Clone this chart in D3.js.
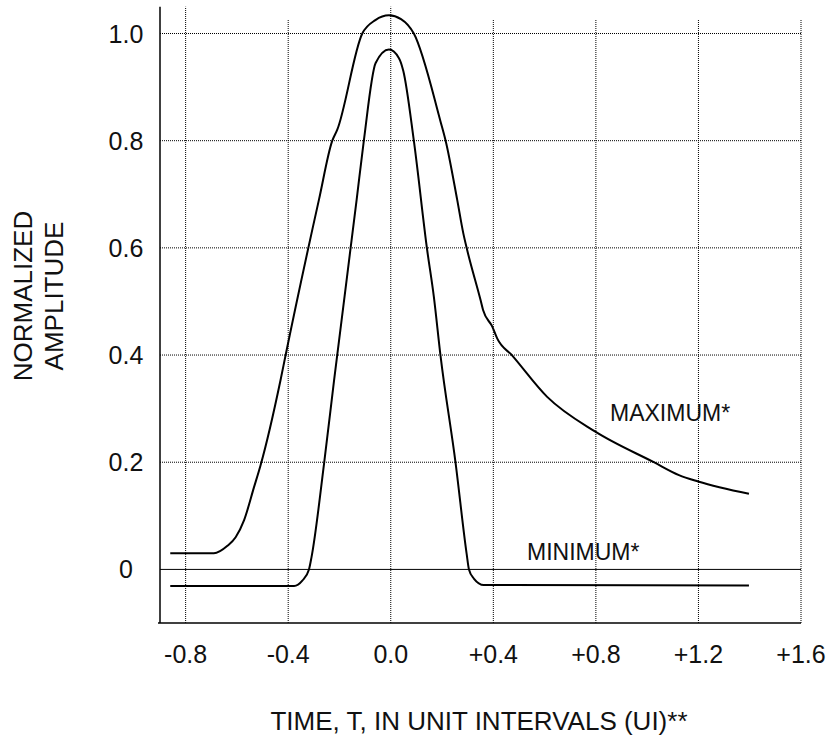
<!DOCTYPE html>
<html>
<head>
<meta charset="utf-8">
<script src="https://cdn.jsdelivr.net/npm/d3@7"></script>
<style>
  body { margin: 0; background: #fff; }
  text { font-family: "Liberation Sans", Arial, Helvetica, sans-serif; fill: #111; }
</style>
</head>
<body>
<svg id="chart" width="826" height="735"></svg>
<script>
// tick values
const xTicks = [-0.8, -0.4, 0.0, 0.4, 0.8, 1.2, 1.6];
const xTickLabels = ['-0.8', '-0.4', '0.0', '+0.4', '+0.8', '+1.2', '+1.6'];
const yTicks = [0, 0.2, 0.4, 0.6, 0.8, 1.0];
const yTickLabels = ['0', '0.2', '0.4', '0.6', '0.8', '1.0'];

// maximum pulse mask
const maxT = [-0.86, -0.69, -0.637, -0.605, -0.572, -0.533, -0.508, -0.43, -0.41, -0.28, -0.228,
  -0.209, -0.111, -0.06, -0.007, 0.04, 0.09, 0.194, 0.214, 0.259, 0.283, 0.298, 0.35,
  0.36, 0.396, 0.415, 0.474, 0.61, 0.798, 1.026, 1.124, 1.199, 1.397];
const maxV = [0.03, 0.03, 0.044, 0.06, 0.092, 0.154, 0.194, 0.353, 0.4, 0.69, 0.8,
  0.82, 1.0, 1.025, 1.034, 1.027, 1.0, 0.836, 0.8, 0.69, 0.627, 0.596, 0.503,
  0.484, 0.453, 0.431, 0.399, 0.322, 0.257, 0.2, 0.176, 0.164, 0.141];

// minimum pulse mask
const minT = [-0.86, -0.377, -0.345, -0.319, -0.309, -0.26, -0.221, -0.133, -0.105, -0.059,
  -0.007, 0.032, 0.049, 0.09, 0.142, 0.168, 0.194, 0.253, 0.296, 0.305, 0.324, 0.363, 1.397];
const minV = [-0.031, -0.031, -0.021, 0, 0.023, 0.198, 0.353, 0.69, 0.8, 0.945,
  0.97, 0.954, 0.93, 0.8, 0.596, 0.509, 0.399, 0.198, 0.029, 0, -0.017, -0.029, -0.03];

const svg = d3.select('#chart');

const x = d3.scaleLinear().domain([-0.9, 1.6]).range([160, 801]);
const y = d3.scaleLinear().domain([-0.1, 1.0]).range([623, 33.5]);

// dotted grid
const grid = svg.append('g')
  .attr('stroke', '#000')
  .attr('stroke-width', 1)
  .attr('stroke-dasharray', '1,1');

grid.selectAll('.hgrid')
  .data(yTicks.filter(d => d > 0))
  .enter()
  .append('line')
  .attr('x1', x(-0.9))
  .attr('x2', x(1.6))
  .attr('y1', d => y(d))
  .attr('y2', d => y(d));

grid.selectAll('.vgrid')
  .data(xTicks)
  .enter()
  .append('line')
  .attr('x1', d => x(d))
  .attr('x2', d => x(d))
  .attr('y1', y(-0.1))
  .attr('y2', d => (d === -0.8 || d === 0 ? y(1.05) : y(1.027)));

// zero reference line
svg.append('line')
  .attr('x1', x(-0.9))
  .attr('x2', x(1.6))
  .attr('y1', y(0))
  .attr('y2', y(0))
  .attr('stroke', '#000')
  .attr('stroke-width', 1);

// axes (plain lines, labels drawn separately)
svg.append('line')
  .attr('x1', x(-0.9))
  .attr('x2', x(-0.9))
  .attr('y1', y(-0.1))
  .attr('y2', y(1.05))
  .attr('stroke', '#000')
  .attr('stroke-width', 1.5);

svg.append('line')
  .attr('x1', x(-0.9) - 2)
  .attr('x2', x(1.6))
  .attr('y1', y(-0.1))
  .attr('y2', y(-0.1))
  .attr('stroke', '#000')
  .attr('stroke-width', 1.5);

svg.selectAll('.ylab')
  .data(yTicks)
  .enter()
  .append('text')
  .attr('x', 126)
  .attr('y', d => y(d))
  .attr('dy', '0.36em')
  .attr('text-anchor', 'middle')
  .attr('font-size', '25px')
  .text((d, i) => yTickLabels[i]);

svg.selectAll('.xlab')
  .data(xTicks)
  .enter()
  .append('text')
  .attr('x', d => x(d))
  .attr('y', 663)
  .attr('text-anchor', 'middle')
  .attr('font-size', '25px')
  .text((d, i) => xTickLabels[i]);

// axis titles
svg.append('text')
  .attr('transform', 'translate(32,296) rotate(-90)')
  .attr('text-anchor', 'middle')
  .attr('font-size', '26px')
  .text('NORMALIZED');

svg.append('text')
  .attr('transform', 'translate(63,296) rotate(-90)')
  .attr('text-anchor', 'middle')
  .attr('font-size', '26px')
  .text('AMPLITUDE');

svg.append('text')
  .attr('x', 479)
  .attr('y', 730)
  .attr('text-anchor', 'middle')
  .attr('font-size', '26px')
  .text('TIME, T, IN UNIT INTERVALS (UI)**');

// mask curves
const line = d3.line()
  .x(d => x(d[0]))
  .y(d => y(d[1]))
  .curve(d3.curveMonotoneX);

svg.append('path')
  .datum(d3.zip(maxT, maxV))
  .attr('d', line)
  .attr('fill', 'none')
  .attr('stroke', '#000')
  .attr('stroke-width', 2);

svg.append('path')
  .datum(d3.zip(minT, minV))
  .attr('d', line)
  .attr('fill', 'none')
  .attr('stroke', '#000')
  .attr('stroke-width', 2);

// curve labels
svg.append('text')
  .attr('x', 610)
  .attr('y', 421)
  .attr('font-size', '23px')
  .text('MAXIMUM*');

svg.append('text')
  .attr('x', 527)
  .attr('y', 560)
  .attr('font-size', '23px')
  .text('MINIMUM*');
</script>
</body>
</html>
